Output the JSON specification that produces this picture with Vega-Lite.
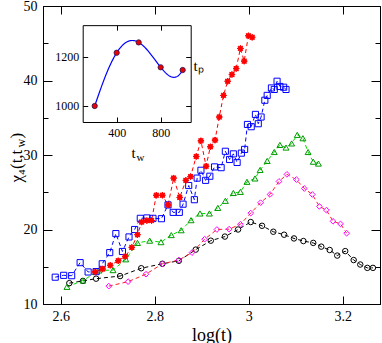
{
  "$schema": "https://vega.github.io/schema/vega-lite/v6.json",
  "width": 337,
  "height": 298,
  "autosize": {"type": "none"},
  "padding": {"left": 43, "top": 6, "right": 2, "bottom": 39},
  "config": {
    "font": "Liberation Serif",
    "view": {"stroke": "#000", "strokeWidth": 1},
    "axis": {"domainColor": "#000", "tickColor": "#000", "labelColor": "#000", "titleColor": "#000", "grid": false, "labelFont": "Liberation Serif", "titleFont": "Liberation Serif", "titleFontWeight": "normal"}
  },
  "datasets": {
    "main": [
      {"s": "e", "x": 2.618, "y": 12.8}, {"s": "e", "x": 2.647, "y": 13.1}, {"s": "e", "x": 2.675, "y": 13.4}, {"s": "e", "x": 2.726, "y": 13.75}, {"s": "e", "x": 2.771, "y": 14.8}, {"s": "e", "x": 2.816, "y": 15.4}, {"s": "e", "x": 2.851, "y": 15.8}, {"s": "e", "x": 2.887, "y": 17.3}, {"s": "e", "x": 2.919, "y": 18.5}, {"s": "e", "x": 2.949, "y": 19.05}, {"s": "e", "x": 2.977, "y": 20.0}, {"s": "e", "x": 3.004, "y": 21.0}, {"s": "e", "x": 3.028, "y": 20.5}, {"s": "e", "x": 3.052, "y": 19.7}, {"s": "e", "x": 3.075, "y": 19.3}, {"s": "e", "x": 3.096, "y": 18.8}, {"s": "e", "x": 3.116, "y": 18.45}, {"s": "e", "x": 3.137, "y": 18.2}, {"s": "e", "x": 3.154, "y": 17.7}, {"s": "e", "x": 3.172, "y": 17.25}, {"s": "e", "x": 3.188, "y": 16.5}, {"s": "e", "x": 3.205, "y": 17.1}, {"s": "e", "x": 3.223, "y": 15.9}, {"s": "e", "x": 3.237, "y": 15.3}, {"s": "e", "x": 3.252, "y": 14.85}, {"s": "e", "x": 3.264, "y": 14.85},
      {"s": "d", "x": 2.702, "y": 12.4}, {"s": "d", "x": 2.743, "y": 13.0}, {"s": "d", "x": 2.781, "y": 14.0}, {"s": "d", "x": 2.816, "y": 15.4}, {"s": "d", "x": 2.851, "y": 15.9}, {"s": "d", "x": 2.879, "y": 16.9}, {"s": "d", "x": 2.906, "y": 18.7}, {"s": "d", "x": 2.932, "y": 20.0}, {"s": "d", "x": 2.958, "y": 20.05}, {"s": "d", "x": 2.982, "y": 20.7}, {"s": "d", "x": 3.004, "y": 22.2}, {"s": "d", "x": 3.025, "y": 23.6}, {"s": "d", "x": 3.045, "y": 24.7}, {"s": "d", "x": 3.064, "y": 26.45}, {"s": "d", "x": 3.081, "y": 27.4}, {"s": "d", "x": 3.101, "y": 26.7}, {"s": "d", "x": 3.118, "y": 25.5}, {"s": "d", "x": 3.135, "y": 24.7}, {"s": "d", "x": 3.150, "y": 23.1}, {"s": "d", "x": 3.165, "y": 22.6}, {"s": "d", "x": 3.179, "y": 21.1}, {"s": "d", "x": 3.195, "y": 20.75}, {"s": "d", "x": 3.208, "y": 19.5},
      {"s": "c", "x": 2.613, "y": 12.3}, {"s": "c", "x": 2.647, "y": 13.15}, {"s": "c", "x": 2.681, "y": 14.5}, {"s": "c", "x": 2.711, "y": 14.55}, {"s": "c", "x": 2.738, "y": 16.0}, {"s": "c", "x": 2.763, "y": 18.2}, {"s": "c", "x": 2.789, "y": 18.5}, {"s": "c", "x": 2.813, "y": 18.3}, {"s": "c", "x": 2.835, "y": 19.25}, {"s": "c", "x": 2.856, "y": 19.9}, {"s": "c", "x": 2.877, "y": 21.25}, {"s": "c", "x": 2.896, "y": 22.15}, {"s": "c", "x": 2.916, "y": 22.15}, {"s": "c", "x": 2.934, "y": 22.9}, {"s": "c", "x": 2.950, "y": 23.85}, {"s": "c", "x": 2.967, "y": 24.9}, {"s": "c", "x": 2.982, "y": 25.05}, {"s": "c", "x": 2.996, "y": 26.4}, {"s": "c", "x": 3.013, "y": 26.85}, {"s": "c", "x": 3.024, "y": 28.0}, {"s": "c", "x": 3.039, "y": 29.2}, {"s": "c", "x": 3.054, "y": 30.4}, {"s": "c", "x": 3.066, "y": 31.35}, {"s": "c", "x": 3.079, "y": 31.0}, {"s": "c", "x": 3.091, "y": 31.55}, {"s": "c", "x": 3.103, "y": 32.7}, {"s": "c", "x": 3.115, "y": 32.25}, {"s": "c", "x": 3.126, "y": 30.4}, {"s": "c", "x": 3.137, "y": 29.1}, {"s": "c", "x": 3.148, "y": 28.85},
      {"s": "b", "x": 2.588, "y": 13.6}, {"s": "b", "x": 2.606, "y": 13.85}, {"s": "b", "x": 2.623, "y": 13.8}, {"s": "b", "x": 2.641, "y": 15.55}, {"s": "b", "x": 2.658, "y": 14.3}, {"s": "b", "x": 2.675, "y": 14.35}, {"s": "b", "x": 2.688, "y": 15.4}, {"s": "b", "x": 2.704, "y": 16.9}, {"s": "b", "x": 2.717, "y": 19.45}, {"s": "b", "x": 2.731, "y": 17.05}, {"s": "b", "x": 2.745, "y": 19.0}, {"s": "b", "x": 2.757, "y": 20.0}, {"s": "b", "x": 2.769, "y": 21.5}, {"s": "b", "x": 2.783, "y": 21.55}, {"s": "b", "x": 2.796, "y": 21.5}, {"s": "b", "x": 2.814, "y": 21.45}, {"s": "b", "x": 2.828, "y": 23.3}, {"s": "b", "x": 2.839, "y": 22.3}, {"s": "b", "x": 2.852, "y": 22.3}, {"s": "b", "x": 2.860, "y": 23.4}, {"s": "b", "x": 2.872, "y": 25.9}, {"s": "b", "x": 2.884, "y": 24.0}, {"s": "b", "x": 2.890, "y": 26.9}, {"s": "b", "x": 2.898, "y": 27.95}, {"s": "b", "x": 2.908, "y": 26.6}, {"s": "b", "x": 2.917, "y": 27.15}, {"s": "b", "x": 2.927, "y": 28.4}, {"s": "b", "x": 2.941, "y": 28.3}, {"s": "b", "x": 2.950, "y": 30.5}, {"s": "b", "x": 2.959, "y": 29.4}, {"s": "b", "x": 2.967, "y": 30.15}, {"s": "b", "x": 2.975, "y": 29.0}, {"s": "b", "x": 2.984, "y": 30.25}, {"s": "b", "x": 2.991, "y": 30.75}, {"s": "b", "x": 2.997, "y": 34.1}, {"s": "b", "x": 3.005, "y": 33.8}, {"s": "b", "x": 3.014, "y": 35.45}, {"s": "b", "x": 3.020, "y": 34.2}, {"s": "b", "x": 3.026, "y": 35.1}, {"s": "b", "x": 3.034, "y": 37.35}, {"s": "b", "x": 3.039, "y": 38.0}, {"s": "b", "x": 3.048, "y": 39.0}, {"s": "b", "x": 3.054, "y": 38.8}, {"s": "b", "x": 3.060, "y": 39.9}, {"s": "b", "x": 3.066, "y": 39.2}, {"s": "b", "x": 3.074, "y": 39.1}, {"s": "b", "x": 3.079, "y": 38.8},
      {"s": "a", "x": 2.673, "y": 14.3}, {"s": "a", "x": 2.689, "y": 14.7}, {"s": "a", "x": 2.705, "y": 15.2}, {"s": "a", "x": 2.722, "y": 15.8}, {"s": "a", "x": 2.737, "y": 16.4}, {"s": "a", "x": 2.751, "y": 17.6}, {"s": "a", "x": 2.763, "y": 19.3}, {"s": "a", "x": 2.772, "y": 21.0}, {"s": "a", "x": 2.783, "y": 21.2}, {"s": "a", "x": 2.793, "y": 21.2}, {"s": "a", "x": 2.803, "y": 24.6}, {"s": "a", "x": 2.816, "y": 24.6}, {"s": "a", "x": 2.828, "y": 23.3}, {"s": "a", "x": 2.840, "y": 26.9}, {"s": "a", "x": 2.853, "y": 24.3}, {"s": "a", "x": 2.866, "y": 26.6}, {"s": "a", "x": 2.876, "y": 27.1}, {"s": "a", "x": 2.888, "y": 29.8}, {"s": "a", "x": 2.898, "y": 31.9}, {"s": "a", "x": 2.909, "y": 28.5}, {"s": "a", "x": 2.918, "y": 31.1}, {"s": "a", "x": 2.928, "y": 32.0}, {"s": "a", "x": 2.937, "y": 35.1}, {"s": "a", "x": 2.946, "y": 38.0}, {"s": "a", "x": 2.955, "y": 39.9}, {"s": "a", "x": 2.964, "y": 40.8}, {"s": "a", "x": 2.973, "y": 41.6}, {"s": "a", "x": 2.982, "y": 44.3}, {"s": "a", "x": 2.990, "y": 42.6}, {"s": "a", "x": 2.999, "y": 46.0}, {"s": "a", "x": 3.007, "y": 45.8}
    ],
    "inset": [
      {"tw": 200, "tp": 1000}, {"tw": 400, "tp": 1216}, {"tw": 600, "tp": 1258}, {"tw": 800, "tp": 1157}, {"tw": 1000, "tp": 1146}
    ]
  },
  "resolve": {"scale": {"x": "independent", "y": "independent"}, "axis": {"x": "independent", "y": "independent"}},
  "layer": [
    {
      "data": {"name": "main"},
      "encoding": {
        "x": {"field": "x", "type": "quantitative", "scale": {"domain": [2.562, 3.279], "nice": false, "zero": false},
              "axis": {"orient": "bottom", "values": [2.6, 2.8, 3, 3.2], "format": "~g", "title": "log(t)", "titleFontSize": 18, "labelFontSize": 14, "tickSize": -8, "labelPadding": 13, "titlePadding": 3}},
        "y": {"field": "y", "type": "quantitative", "scale": {"domain": [10, 50], "nice": false, "zero": false},
              "axis": {"orient": "left", "values": [10, 20, 30, 40, 50], "labelFontSize": 14, "tickSize": -9, "labelPadding": 15,
                       "title": "χ₄(t,t", "titleFontSize": 17, "titleAngle": 270, "titleAlign": "left", "titleBaseline": "alphabetic", "titleX": -22, "titleY": 176}}
      },
      "layer": [
        {
          "mark": {"type": "line", "strokeDash": [4, 3], "strokeWidth": 1},
          "encoding": {
            "color": {"field": "s", "type": "nominal", "legend": null, "scale": {"domain": ["a", "b", "c", "d", "e"], "range": ["#ff0000", "#0000ff", "#00dd00", "#ff2020", "#000000"]}}
          }
        },
        {
          "mark": {"type": "point", "strokeWidth": 1, "opacity": 1},
          "encoding": {
            "shape": {"field": "s", "type": "nominal", "legend": null, "scale": {"domain": ["a", "b", "c", "d", "e"], "range": ["M0,-1L0.23,-0.554L0.707,-0.707L0.554,-0.23L1,0L0.554,0.23L0.707,0.707L0.23,0.554L0,1L-0.23,0.554L-0.707,0.707L-0.554,0.23L-1,0L-0.554,-0.23L-0.707,-0.707L-0.23,-0.554Z", "square", "triangle-up", "diamond", "circle"]}},
            "stroke": {"field": "s", "type": "nominal", "legend": null, "scale": {"domain": ["a", "b", "c", "d", "e"], "range": ["#ff0000", "#0000ff", "#009900", "#ff00ff", "#000000"]}},
            "fill": {"field": "s", "type": "nominal", "legend": null, "scale": {"domain": ["a", "b", "c", "d", "e"], "range": ["#ff0000", "transparent", "transparent", "transparent", "transparent"]}},
            "size": {"field": "s", "type": "nominal", "legend": null, "scale": {"domain": ["a", "b", "c", "d", "e"], "range": [40, 30, 30, 26, 30]}}
          }
        }
      ]
    },
    {
      "data": {"values": [{"v": 0}]},
      "mark": {"type": "point", "opacity": 0},
      "encoding": {
        "x": {"datum": 3, "type": "quantitative", "scale": {"domain": [2.562, 3.279], "nice": false, "zero": false},
              "axis": {"orient": "top", "values": [2.6, 2.8, 3, 3.2], "labels": false, "tickSize": -8, "title": null}},
        "y": {"datum": 20, "type": "quantitative", "scale": {"domain": [10, 50], "nice": false, "zero": false},
              "axis": {"orient": "right", "values": [10, 20, 30, 40, 50], "labels": false, "tickSize": -9, "title": null}}
      }
    },
    {
      "data": {"values": [{"v": 0}]},
      "mark": {"type": "point", "opacity": 0},
      "encoding": {
        "y": {"datum": 20, "type": "quantitative", "scale": {"domain": [10, 50], "nice": false, "zero": false},
              "axis": {"orient": "left", "values": [15, 25, 35, 45], "labels": false, "domain": false, "tickSize": -5,
                       "title": "w", "titleFontSize": 12, "titleAngle": 270, "titleAlign": "left", "titleBaseline": "alphabetic", "titleX": -19, "titleY": 141}}
      }
    },
    {
      "data": {"values": [{"v": 0}]},
      "mark": {"type": "point", "opacity": 0},
      "encoding": {
        "y": {"datum": 20, "type": "quantitative", "scale": {"domain": [10, 50], "nice": false, "zero": false},
              "axis": {"orient": "right", "values": [15, 25, 35, 45], "labels": false, "domain": false, "tickSize": -5,
                       "title": ")", "titleFontSize": 17, "titleAngle": 270, "titleAlign": "left", "titleBaseline": "alphabetic", "titleX": -359, "titleY": 132}}
      }
    },
    {
      "data": {"name": "inset"},
      "encoding": {
        "x": {"field": "tw", "type": "quantitative", "scale": {"domain": [91, 1073], "range": [39.7, 147.7], "nice": false, "zero": false},
              "axis": {"orient": "bottom", "offset": -182, "values": [400, 800], "format": "d", "labelFontSize": 12, "tickSize": -5, "labelPadding": 10,
                       "title": "t", "titleFontSize": 15, "titleAngle": 0, "titleAlign": "left", "titleBaseline": "alphabetic", "titleX": 88, "titleY": 35}},
        "y": {"field": "tp", "type": "quantitative", "scale": {"domain": [935, 1328], "range": [116, 19.15], "nice": false, "zero": false},
              "axis": {"orient": "left", "offset": -39.7, "values": [1000, 1200], "format": "d", "labelFontSize": 12, "tickSize": -5, "labelPadding": 9, "title": null}}
      },
      "layer": [
        {
          "transform": [{"regression": "tp", "on": "tw", "method": "poly", "order": 4, "extent": [200, 1000]}],
          "mark": {"type": "line", "color": "#0000ff", "strokeWidth": 1.2}
        },
        {
          "mark": {"type": "point", "filled": true, "fill": "#ee0000", "stroke": "#1a1a5a", "strokeWidth": 0.8, "size": 28, "opacity": 1}
        }
      ]
    },
    {
      "data": {"values": [{"v": 0}]},
      "mark": {"type": "point", "opacity": 0},
      "encoding": {
        "x": {"datum": 600, "type": "quantitative", "scale": {"domain": [91, 1073], "range": [39.7, 147.7], "nice": false, "zero": false},
              "axis": {"orient": "top", "offset": -19.15, "values": [400, 800], "labels": false, "tickSize": -5,
                       "title": "w", "titleFontSize": 11, "titleAngle": 0, "titleAlign": "left", "titleBaseline": "alphabetic", "titleX": 93, "titleY": 135}},
        "y": {"datum": 1100, "type": "quantitative", "scale": {"domain": [935, 1328], "range": [116, 19.15], "nice": false, "zero": false},
              "axis": {"orient": "right", "offset": -189.3, "values": [1000, 1200], "labels": false, "tickSize": -5, "title": "tₚ", "titleAngle": 0, "titleFontSize": 15, "titlePadding": 7}}
      }
    }
  ]
}
